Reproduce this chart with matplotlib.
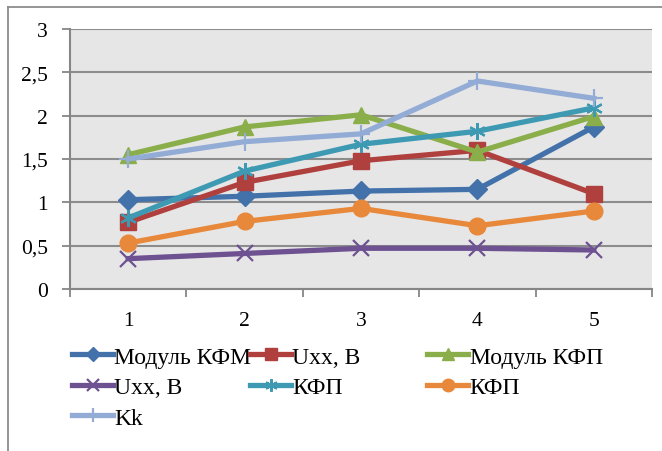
import matplotlib
matplotlib.use("Agg")
import matplotlib.pyplot as plt
from matplotlib.lines import Line2D
import numpy as np

categories = ["1", "2", "3", "4", "5"]
modul_kfm = [1.03, 1.07, 1.13, 1.15, 1.87]
uxx_1 = [0.77, 1.23, 1.48, 1.60, 1.10]
modul_kfp = [1.55, 1.87, 2.01, 1.58, 1.99]
uxx_2 = [0.35, 0.41, 0.47, 0.47, 0.45]
kfp_1 = [0.82, 1.36, 1.67, 1.82, 2.09]
kfp_2 = [0.53, 0.78, 0.93, 0.73, 0.90]
kk = [1.50, 1.70, 1.79, 2.40, 2.20]
y_ticks = [0, 0.5, 1, 1.5, 2, 2.5, 3]
y_tick_labels = ["0", "0,5", "1", "1,5", "2", "2,5", "3"]

series = [
    ("Модуль КФМ", modul_kfm, "#4372AA", "D", 10),
    ("Uxx, В", uxx_1, "#B0403D", "s", 12),
    ("Модуль КФП", modul_kfp, "#8AAE4A", "^", 12),
    ("Uxx, В", uxx_2, "#6E5191", "x", 12),
    ("КФП", kfp_1, "#3E9AB3", "*", 12),
    ("КФП", kfp_2, "#E8883A", "o", 12),
    ("Kk", kk, "#93ACD6", "+", 13),
]

plt.rcParams['font.family'] = ['Liberation Serif', 'DejaVu Serif']

fig = plt.figure(figsize=(6.62, 4.52), dpi=100)
ax = fig.add_axes([70/662, 1-290/452, (652-70)/662, (290-30)/452])
ax.set_facecolor("#E6E6E6")

x = np.arange(len(categories)) + 0.5
handles = []
for label, vals, color, marker, ms in series:
    if marker in ("x", "+"):
        h, = ax.plot(x, vals, color=color, lw=3.8, marker=marker, ms=ms,
                     mew=1.6, label=label, zorder=3)
    elif marker == "*":
        h, = ax.plot(x, vals, color=color, lw=3.8, marker=(6, 2, 0), ms=ms,
                     mew=1.6, label=label, zorder=3)
    else:
        h, = ax.plot(x, vals, color=color, lw=3.8, marker=marker, ms=ms,
                     mec=color, label=label, zorder=3)
    handles.append(h)

ax.set_xlim(0, 5)
ax.set_ylim(0, 3)
ax.set_yticks(y_ticks)
ax.set_yticklabels(y_tick_labels, fontsize=15.5)
ax.set_xticks(np.arange(0, 6))
ax.set_xticklabels([])
ax.set_xticks(x, minor=True)
ax.set_xticklabels(categories, minor=True, fontsize=15.5)
ax.tick_params(axis="x", which="minor", length=0, pad=16)
ax.tick_params(axis="x", which="major", length=5.5, width=1.3, color="#868686")
ax.tick_params(axis="y", length=6, width=1.3, color="#868686", pad=10)
ax.yaxis.grid(True, color="#8C8C8C", lw=1.5)
ax.set_axisbelow(True)
for s in ["top", "right"]:
    ax.spines[s].set_visible(False)
for s in ["left", "bottom"]:
    ax.spines[s].set_color("#868686")
    ax.spines[s].set_linewidth(1.5)

# outer border (top and left only visible)
fig.add_artist(Line2D([8/662, 1], [1-8/452, 1-8/452], color="#8C8C8C", lw=1.3))
fig.add_artist(Line2D([8/662, 8/662], [0, 1-8/452], color="#8C8C8C", lw=1.3))

cols = [[0, 3, 6], [1, 4], [2, 5]]
xs = [72, 250, 427]
for col, xp in zip(cols, xs):
    leg = fig.legend([handles[i] for i in col], [series[i][0] for i in col],
                     loc="upper left", bbox_to_anchor=(xp/662, 1-347/452),
                     frameon=False, fontsize=17, handlelength=1.75,
                     handletextpad=0.05, labelspacing=0.38, borderpad=0,
                     borderaxespad=0, markerscale=0.75)

fig.savefig("out.png", dpi=100)
